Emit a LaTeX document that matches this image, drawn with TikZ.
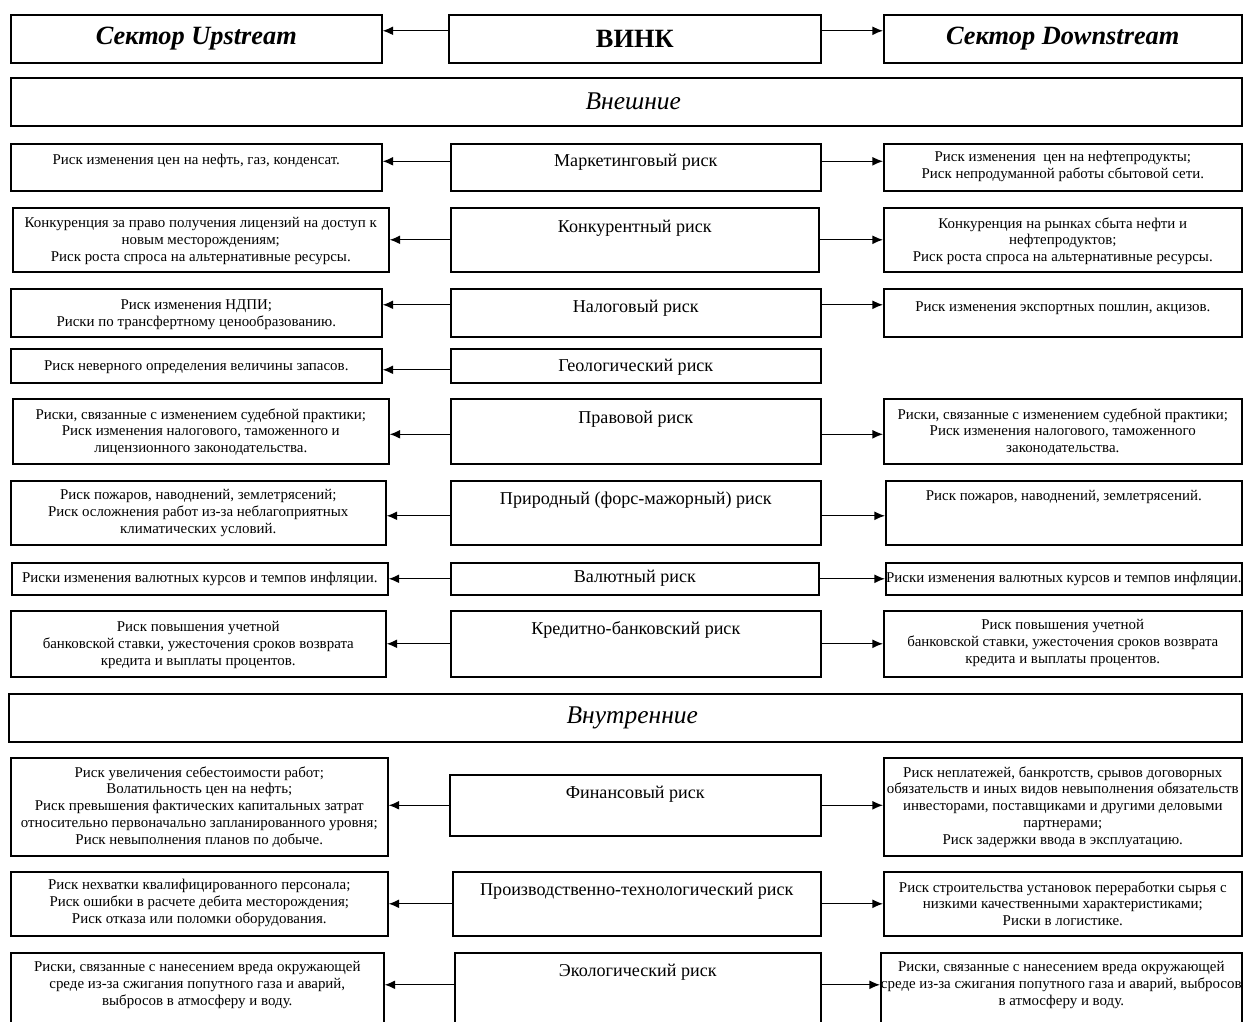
\documentclass[tikz,border=0pt]{standalone}
\usepackage{fontspec}
\setmainfont{Liberation Serif}
\usepackage{tikz}
\usetikzlibrary{arrows.meta}
\newlength{\px}
\setlength{\px}{0.02cm}
\tikzstyle{arrow} = [line width=0.7pt,->,>={Latex[length=6pt,width=5pt]}]
\tikzstyle{frame} = [rectangle, draw=black, line width=0.9pt, inner sep=0pt, anchor=north west]
\tikzstyle{sidetext} = [align=center, anchor=north, inner sep=0pt, font=\fontsize{8.5}{9.6}\selectfont]
\tikzstyle{risktext} = [anchor=mid, inner sep=0pt, font=\fontsize{10.3}{12}\selectfont]
\tikzstyle{headtext} = [font=\fontsize{15}{18}\selectfont\bfseries]
\tikzstyle{bandtext} = [font=\fontsize{14.5}{17}\selectfont\itshape]

\begin{document}
\begin{tikzpicture}[x=\px, y=-\px]
\useasboundingbox (0,0) rectangle (1243,1021);

% header
\node (up) [frame, headtext, minimum width=371\px, minimum height=48\px] at (10,14) {\itshape Сектор Upstream};
\node (vink) [frame, headtext, minimum width=372\px, minimum height=48\px] at (448,14) {ВИНК};
\node (down) [frame, headtext, minimum width=358\px, minimum height=48\px] at (883,14) {\itshape Сектор Downstream};
\draw [arrow] ([yshift=8\px]vink.west) -- ([yshift=8\px]up.east);
\draw [arrow] ([yshift=8\px]vink.east) -- ([yshift=8\px]down.west);

\node (ext) [frame, minimum width=1231\px, minimum height=48\px] at (10,77) {};
\node (extT) [bandtext] at ([xshift=7\px]ext.center) {Внешние};

% marketing
\node (mark) [frame, minimum width=370\px, minimum height=47\px] at (450,143) {};
\node (markL) [frame, minimum width=371\px, minimum height=47\px] at (10,143) {};
\node (markR) [frame, minimum width=358\px, minimum height=47\px] at (883,143) {};
\node (markT) [risktext] at ([yshift=-19\px]mark.north) {Маркетинговый риск};
\node (markLT) [sidetext] at ([yshift=-11\px]markL.north) {Риск изменения цен на нефть, газ, конденсат.};
\node (markRT) [sidetext] at ([yshift=-8\px]markR.north) {Риск изменения \ цен на нефтепродукты;\\Риск непродуманной работы сбытовой сети.};
\draw [arrow] ([yshift=6\px]mark.west) -- ([yshift=6\px]markL.east);
\draw [arrow] ([yshift=6\px]mark.east) -- ([yshift=6\px]markR.west);

% competition
\node (conc) [frame, minimum width=368\px, minimum height=64\px] at (450,207) {};
\node (concL) [frame, minimum width=376\px, minimum height=64\px] at (12,207) {};
\node (concR) [frame, minimum width=358\px, minimum height=64\px] at (883,207) {};
\node (concT) [risktext] at ([yshift=-21\px]conc.north) {Конкурентный риск};
\node (concLT) [sidetext] at ([yshift=-10\px]concL.north) {Конкуренция за право получения лицензий на доступ к\\новым месторождениям;\\Риск роста спроса на альтернативные ресурсы.};
\node (concRT) [sidetext] at ([yshift=-10\px]concR.north) {Конкуренция на рынках сбыта нефти и\\нефтепродуктов;\\Риск роста спроса на альтернативные ресурсы.};
\draw [arrow] (conc.west) -- (concL.east);
\draw [arrow] (conc.east) -- (concR.west);

% tax
\node (tax) [frame, minimum width=370\px, minimum height=48\px] at (450,288) {};
\node (taxL) [frame, minimum width=371\px, minimum height=48\px] at (10,288) {};
\node (taxR) [frame, minimum width=358\px, minimum height=48\px] at (883,288) {};
\node (taxT) [risktext] at ([yshift=-20\px]tax.north) {Налоговый риск};
\node (taxLT) [sidetext] at ([yshift=-11\px]taxL.north) {Риск изменения НДПИ;\\Риски по трансфертному ценообразованию.};
\node (taxRT) [sidetext] at ([yshift=-13\px]taxR.north) {Риск изменения экспортных пошлин, акцизов.};
\draw [arrow] ([yshift=8\px]tax.west) -- ([yshift=8\px]taxL.east);
\draw [arrow] ([yshift=8\px]tax.east) -- ([yshift=8\px]taxR.west);

% geology
\node (geo) [frame, minimum width=370\px, minimum height=34\px] at (450,348) {};
\node (geoL) [frame, minimum width=371\px, minimum height=34\px] at (10,348) {};
\node (geoT) [risktext] at ([yshift=-19\px]geo.north) {Геологический риск};
\node (geoLT) [sidetext] at ([yshift=-12\px]geoL.north) {Риск неверного определения величины запасов.};
\draw [arrow] ([yshift=-4\px]geo.west) -- ([yshift=-4\px]geoL.east);

% law
\node (law) [frame, minimum width=370\px, minimum height=65\px] at (450,398) {};
\node (lawL) [frame, minimum width=376\px, minimum height=65\px] at (12,398) {};
\node (lawR) [frame, minimum width=358\px, minimum height=65\px] at (883,398) {};
\node (lawT) [risktext] at ([yshift=-21\px]law.north) {Правовой риск};
\node (lawLT) [sidetext] at ([yshift=-10\px]lawL.north) {Риски, связанные с изменением судебной практики;\\Риск изменения налогового, таможенного и\\лицензионного законодательства.};
\node (lawRT) [sidetext] at ([yshift=-10\px]lawR.north) {Риски, связанные с изменением судебной практики;\\Риск изменения налогового, таможенного\\законодательства.};
\draw [arrow] ([yshift=-3\px]law.west) -- ([yshift=-3\px]lawL.east);
\draw [arrow] ([yshift=-3\px]law.east) -- ([yshift=-3\px]lawR.west);

% nature
\node (nat) [frame, minimum width=370\px, minimum height=64\px] at (450,480) {};
\node (natL) [frame, minimum width=375\px, minimum height=64\px] at (10,480) {};
\node (natR) [frame, minimum width=356\px, minimum height=64\px] at (885,480) {};
\node (natT) [risktext] at ([yshift=-20\px]nat.north) {Природный (форс-мажорный) риск};
\node (natLT) [sidetext] at ([yshift=-9\px]natL.north) {Риск пожаров, наводнений, землетрясений;\\Риск осложнения работ из-за неблагоприятных\\климатических условий.};
\node (natRT) [sidetext] at ([yshift=-10\px]natR.north) {Риск пожаров, наводнений, землетрясений.};
\draw [arrow] ([yshift=-3\px]nat.west) -- ([yshift=-3\px]natL.east);
\draw [arrow] ([yshift=-3\px]nat.east) -- ([yshift=-3\px]natR.west);

% currency
\node (cur) [frame, minimum width=368\px, minimum height=32\px] at (450,562) {};
\node (curL) [frame, minimum width=376\px, minimum height=32\px] at (11,562) {};
\node (curR) [frame, minimum width=356\px, minimum height=32\px] at (885,562) {};
\node (curT) [risktext] at ([yshift=-16\px]cur.north) {Валютный риск};
\node (curLT) [sidetext] at ([yshift=-10\px]curL.north) {Риски изменения валютных курсов и темпов инфляции.};
\node (curRT) [sidetext] at ([yshift=-10\px]curR.north) {Риски изменения валютных курсов и темпов инфляции.};
\draw [arrow] (cur.west) -- (curL.east);
\draw [arrow] (cur.east) -- (curR.west);

% credit
\node (cred) [frame, minimum width=370\px, minimum height=66\px] at (450,610) {};
\node (credL) [frame, minimum width=375\px, minimum height=66\px] at (10,610) {};
\node (credR) [frame, minimum width=358\px, minimum height=66\px] at (883,610) {};
\node (credT) [risktext] at ([yshift=-20\px]cred.north) {Кредитно-банковский риск};
\node (credLT) [sidetext] at ([yshift=-11\px]credL.north) {Риск повышения учетной\\банковской ставки, ужесточения сроков возврата\\кредита и выплаты процентов.};
\node (credRT) [sidetext] at ([yshift=-9\px]credR.north) {Риск повышения учетной\\банковской ставки, ужесточения сроков возврата\\кредита и выплаты процентов.};
\draw [arrow] (cred.west) -- (credL.east);
\draw [arrow] (cred.east) -- (credR.west);

\node (int) [frame, minimum width=1233\px, minimum height=48\px] at (8,693) {};
\node (intT) [bandtext] at ([xshift=7\px]int.center) {Внутренние};

% finance
\node (fin) [frame, minimum width=371\px, minimum height=61\px] at (449,774) {};
\node (finL) [frame, minimum width=377\px, minimum height=98\px] at (10,757) {};
\node (finR) [frame, minimum width=358\px, minimum height=98\px] at (883,757) {};
\node (finT) [risktext] at ([yshift=-20\px]fin.north) {Финансовый риск};
\node (finLT) [sidetext] at ([yshift=-9\px]finL.north) {Риск увеличения себестоимости работ;\\Волатильность цен на нефть;\\Риск превышения фактических капитальных затрат\\относительно первоначально запланированного уровня;\\Риск невыполнения планов по добыче.};
\node (finRT) [sidetext] at ([yshift=-9\px]finR.north) {Риск неплатежей, банкротств, срывов договорных\\обязательств и иных видов невыполнения обязательств\\инвесторами, поставщиками и другими деловыми\\партнерами;\\Риск задержки ввода в эксплуатацию.};
\draw [arrow] (fin.west) -- (fin.west -| finL.east);
\draw [arrow] (fin.east) -- (fin.east -| finR.west);

% production
\node (prod) [frame, minimum width=368\px, minimum height=64\px] at (452,871) {};
\node (prodL) [frame, minimum width=377\px, minimum height=64\px] at (10,871) {};
\node (prodR) [frame, minimum width=358\px, minimum height=64\px] at (883,871) {};
\node (prodT) [risktext] at ([yshift=-20\px]prod.north) {Производственно-технологический риск};
\node (prodLT) [sidetext] at ([yshift=-8\px]prodL.north) {Риск нехватки квалифицированного персонала;\\Риск ошибки в расчете дебита месторождения;\\Риск отказа или поломки оборудования.};
\node (prodRT) [sidetext] at ([yshift=-10\px]prodR.north) {Риск строительства установок переработки сырья с\\низкими качественными характеристиками;\\Риски в логистике.};
\draw [arrow] (prod.west) -- (prodL.east);
\draw [arrow] (prod.east) -- (prodR.west);

% ecology
\node (eco) [frame, minimum width=366\px, minimum height=72\px] at (454,952) {};
\node (ecoL) [frame, minimum width=373\px, minimum height=72\px] at (10,952) {};
\node (ecoR) [frame, minimum width=361\px, minimum height=72\px] at (880,952) {};
\node (ecoT) [risktext] at ([yshift=-20\px]eco.north) {Экологический риск};
\node (ecoLT) [sidetext] at ([yshift=-9\px]ecoL.north) {Риски, связанные с нанесением вреда окружающей\\среде из-за сжигания попутного газа и аварий,\\выбросов в атмосферу и воду.};
\node (ecoRT) [sidetext] at ([yshift=-9\px]ecoR.north) {Риски, связанные с нанесением вреда окружающей\\среде из-за сжигания попутного газа и аварий, выбросов\\в атмосферу и воду.};
\draw [arrow] ([yshift=4\px]eco.west) -- ([yshift=4\px]ecoL.east);
\draw [arrow] ([yshift=4\px]eco.east) -- ([yshift=4\px]ecoR.west);

\end{tikzpicture}
\end{document}
